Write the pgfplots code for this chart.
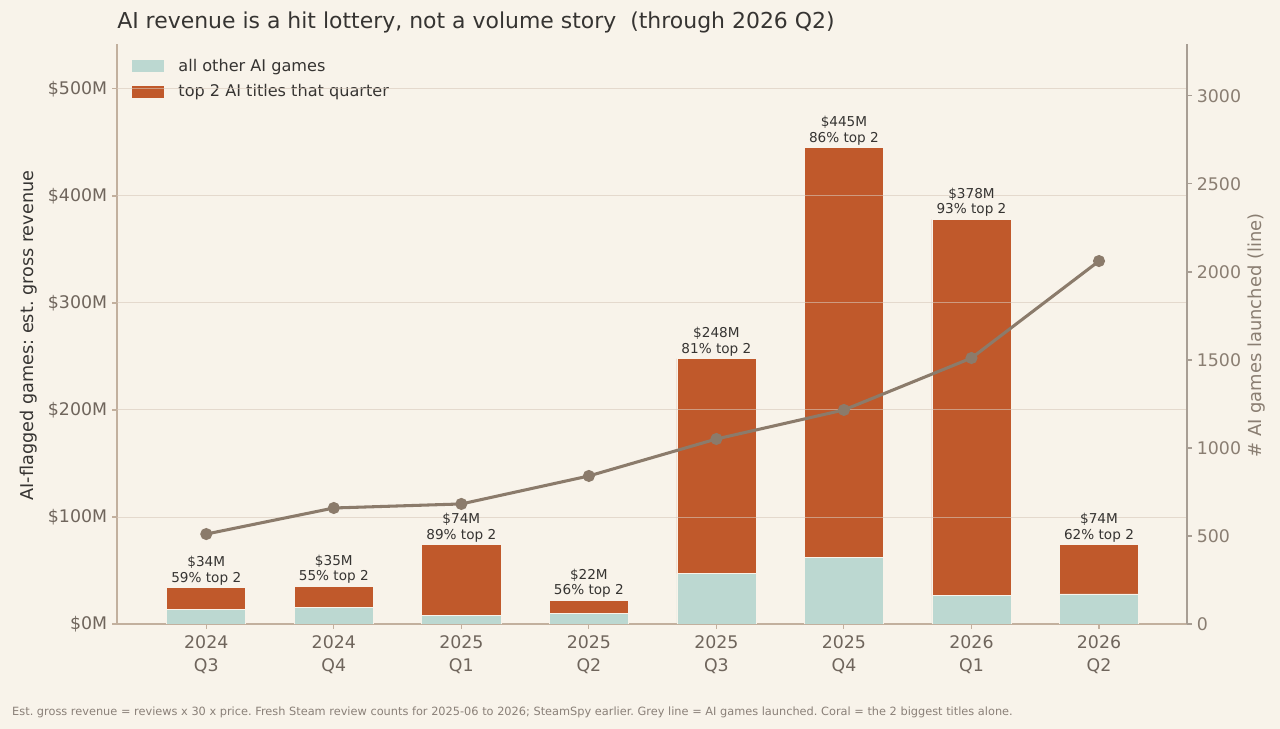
\documentclass[border=0pt]{standalone}
\usepackage{pgfplots}
\pgfplotsset{compat=1.18}
\usepackage{fontspec}
\setmainfont{DejaVu Sans}
\frenchspacing
\definecolor{bg}{HTML}{F8F3EA}
\definecolor{coral}{HTML}{C0592B}
\definecolor{tealc}{HTML}{BCD8D1}
\definecolor{linec}{HTML}{8B7B6B}
\definecolor{gridc}{HTML}{D8C8BA}
\definecolor{spinel}{HTML}{C2B09E}
\definecolor{spiner}{HTML}{A89E94}
\definecolor{tickl}{HTML}{6F655C}
\definecolor{tickr}{HTML}{8A7E72}
\definecolor{textc}{HTML}{363432}
\definecolor{footc}{HTML}{8A8078}
\pgfplotsset{mylegend/.style={legend image code/.code={\path[##1,draw=none] (0bp,-4.3bp) rectangle (23bp,4.3bp); \path (31bp,0bp);}}}
\begin{document}
\begin{tikzpicture}
\fill[bg] (0,0) rectangle (921.6bp,524.88bp);
\path[use as bounding box] (0,0) rectangle (921.6bp,524.88bp);
\begin{axis}[
  at={(84.24bp,75.6bp)}, anchor=south west, scale only axis,
  width=770.4bp, height=417.6bp,
  xmin=-0.7, xmax=7.69, ymin=0, ymax=542,
  ybar stacked, bar width=0.62,
  axis x line*=bottom, axis y line*=left,
  axis line style={spinel, line width=0.9bp},
  xtick={0,1,2,3,4,5,6,7},
  xticklabels={{2024\\Q3},{2024\\Q4},{2025\\Q1},{2025\\Q2},{2025\\Q3},{2025\\Q4},{2026\\Q1},{2026\\Q2}},
  xticklabel style={align=center, font=\fontsize{12.5bp}{16bp}\selectfont, text=tickl, yshift=-1.5bp},
  ytick={0,100,200,300,400,500},
  yticklabels={\$0M,\$100M,\$200M,\$300M,\$400M,\$500M},
  yticklabel style={font=\fontsize{12.5bp}{15bp}\selectfont, text=tickl},
  tick align=outside, major tick length=3.6bp,
  tick style={spinel, line width=0.8bp},
  legend style={at={(axis description cs:0,1)}, anchor=north west, xshift=10.8bp, yshift=-8.6bp,
    draw=none, fill=none, inner sep=0pt, row sep=4bp,
    font=\fontsize{11.6bp}{13bp}\selectfont, text=textc, cells={anchor=west}},
]
\addplot[fill=tealc, draw=bg, line width=0.5bp, mylegend] coordinates
  {(0,14) (1,15.75) (2,8.1) (3,9.7) (4,47.1) (5,62.3) (6,26.5) (7,28.1)};
\addlegendentry{all other AI games}
\addplot[fill=coral, draw=bg, line width=0.5bp, mylegend] coordinates
  {(0,20) (1,19.25) (2,65.9) (3,12.3) (4,200.9) (5,382.7) (6,351.5) (7,45.9)};
\addlegendentry{top 2 AI titles that quarter}
\end{axis}
% grid lines drawn over the bars, then the bar labels
\begin{axis}[
  at={(84.24bp,75.6bp)}, anchor=south west, scale only axis,
  width=770.4bp, height=417.6bp,
  xmin=-0.7, xmax=7.69, ymin=0, ymax=542,
  axis line style={draw=none}, tick style={draw=none},
  xtick=\empty, xticklabels={},
  ytick={100,200,300,400,500}, yticklabels={},
  major tick length=0pt,
  ymajorgrids, grid style={draw=gridc, line width=0.7bp, opacity=0.6},
]
\addplot[draw=none, forget plot] coordinates {(0,0) (7,0)};
\node[anchor=south, align=center, inner sep=1bp, yshift=0.8bp, font=\fontsize{9.8bp}{11bp}\selectfont, text=textc] at (axis cs:0,34) {\$34M\\59\% top 2};
\node[anchor=south, align=center, inner sep=1bp, yshift=0.8bp, font=\fontsize{9.8bp}{11bp}\selectfont, text=textc] at (axis cs:1,35) {\$35M\\55\% top 2};
\node[anchor=south, align=center, inner sep=1bp, yshift=0.8bp, font=\fontsize{9.8bp}{11bp}\selectfont, text=textc] at (axis cs:2,74) {\$74M\\89\% top 2};
\node[anchor=south, align=center, inner sep=1bp, yshift=0.8bp, font=\fontsize{9.8bp}{11bp}\selectfont, text=textc] at (axis cs:3,22) {\$22M\\56\% top 2};
\node[anchor=south, align=center, inner sep=1bp, yshift=0.8bp, font=\fontsize{9.8bp}{11bp}\selectfont, text=textc] at (axis cs:4,248) {\$248M\\81\% top 2};
\node[anchor=south, align=center, inner sep=1bp, yshift=0.8bp, font=\fontsize{9.8bp}{11bp}\selectfont, text=textc] at (axis cs:5,445) {\$445M\\86\% top 2};
\node[anchor=south, align=center, inner sep=1bp, yshift=0.8bp, font=\fontsize{9.8bp}{11bp}\selectfont, text=textc] at (axis cs:6,378) {\$378M\\93\% top 2};
\node[anchor=south, align=center, inner sep=1bp, yshift=0.8bp, font=\fontsize{9.8bp}{11bp}\selectfont, text=textc] at (axis cs:7,74) {\$74M\\62\% top 2};
\end{axis}
\begin{axis}[
  at={(84.24bp,75.6bp)}, anchor=south west, scale only axis,
  width=770.4bp, height=417.6bp,
  xmin=-0.7, xmax=7.69, ymin=0, ymax=3295,
  axis y line*=right, axis x line=none,
  axis line style={spiner, line width=0.9bp},
  ytick={0,500,1000,1500,2000,2500,3000},
  /pgf/number format/assume math mode=true,
  /pgf/number format/1000 sep={},
  yticklabel style={font=\fontsize{12.5bp}{15bp}\selectfont, text=tickr},
  tick align=outside, major tick length=3.6bp,
  tick style={spiner, line width=0.8bp},
]
\addplot[color=linec, line width=2.2bp, mark=*, mark size=3.2bp, mark options={fill=linec, draw=linec}] coordinates
  {(0,511) (1,659) (2,682) (3,841) (4,1051) (5,1216) (6,1511) (7,2062)};
\end{axis}
\node[anchor=base west, inner sep=0pt, font=\fontsize{15.8bp}{19bp}\selectfont, text=textc] at (84.24bp,504.7bp)
  {AI revenue is a hit lottery, not a volume story\ \ (through 2026 Q2)};
\node[rotate=90, font=\fontsize{12.7bp}{15bp}\selectfont, text=textc] at (20.6bp,283.3bp)
  {AI-flagged games: est. gross revenue};
\node[rotate=90, font=\fontsize{12.9bp}{15bp}\selectfont, text=tickr] at (905bp,283.3bp)
  {\# AI games launched (line)};
\node[anchor=base west, inner sep=0pt, font=\fontsize{8.17bp}{10bp}\selectfont, text=footc] at (8.6bp,9.4bp)
  {Est. gross revenue = reviews x 30 x price. Fresh Steam review counts for 2025-06 to 2026; SteamSpy earlier. Grey line = AI games launched. Coral = the 2 biggest titles alone.};
\end{tikzpicture}
\end{document}
